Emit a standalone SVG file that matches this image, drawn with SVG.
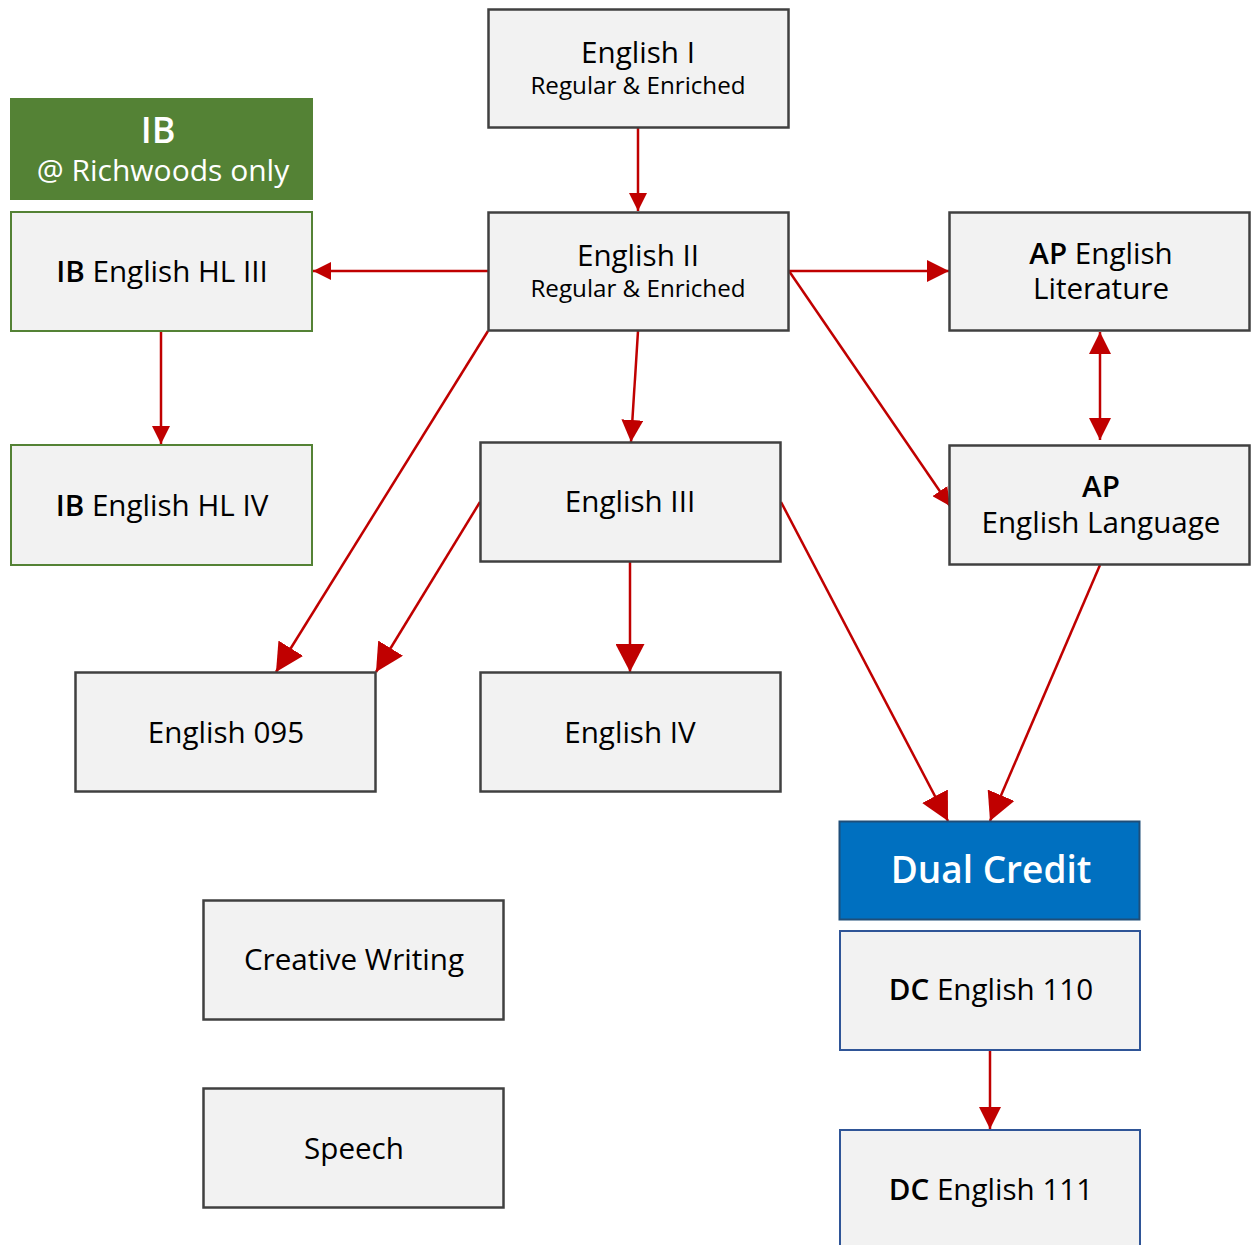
<svg xmlns="http://www.w3.org/2000/svg" width="1252" height="1245" viewBox="0 0 1252 1245">
<style>
  text { font-family: "Open Sans", "Noto Sans", "DejaVu Sans", sans-serif; text-anchor: middle; fill: #000; }
  .box { fill: #f2f2f2; stroke: #404040; stroke-width: 2.5; }
  .ib { fill: #f2f2f2; stroke: #548235; stroke-width: 2; }
  .dc { fill: #f2f2f2; stroke: #2f5597; stroke-width: 2; }
  .t { font-size: 29.6px; }
  .s { font-size: 24.2px; }
  .b { font-weight: 600; }
  .w { fill: #fff; }
  .c { stroke: #c00000; stroke-width: 2.5; fill: none; }
</style>
<defs>
  <marker id="aS" markerUnits="userSpaceOnUse" markerWidth="18" markerHeight="18" refX="18" refY="9" orient="auto-start-reverse" viewBox="0 0 18 18">
    <path d="M0,0 L18,9 L0,18 Z" fill="#c00000"/>
  </marker>
  <marker id="aM" markerUnits="userSpaceOnUse" markerWidth="22" markerHeight="22" refX="22" refY="11" orient="auto-start-reverse" viewBox="0 0 22 22">
    <path d="M0,0 L22,11 L0,22 Z" fill="#c00000"/>
  </marker>
  <marker id="aL" markerUnits="userSpaceOnUse" markerWidth="28" markerHeight="29" refX="28" refY="14.5" orient="auto-start-reverse" viewBox="0 0 28 29">
    <path d="M0,0 L28,14.5 L0,29 Z" fill="#c00000"/>
  </marker>
</defs>
<rect width="1252" height="1245" fill="#fff"/>

<g id="connectors">
  <line class="c" x1="638" y1="128" x2="638" y2="211" marker-end="url(#aS)"/>
  <line class="c" x1="488" y1="271" x2="313" y2="271" marker-end="url(#aS)"/>
  <line class="c" x1="161" y1="331" x2="161" y2="444" marker-end="url(#aS)"/>
  <line class="c" x1="789" y1="271" x2="949" y2="271" marker-end="url(#aM)"/>
  <line class="c" x1="789" y1="271" x2="950" y2="506" marker-end="url(#aS)"/>
  <line class="c" x1="1100" y1="332" x2="1100" y2="440" marker-start="url(#aM)" marker-end="url(#aM)"/>
  <line class="c" x1="638" y1="331" x2="631" y2="442" marker-end="url(#aM)"/>
  <line class="c" x1="488" y1="331" x2="276" y2="672" marker-end="url(#aL)"/>
  <line class="c" x1="480" y1="502" x2="376" y2="672" marker-end="url(#aL)"/>
  <line class="c" x1="630" y1="562" x2="630" y2="672" marker-end="url(#aL)"/>
  <line class="c" x1="781" y1="502" x2="948" y2="821" marker-end="url(#aL)"/>
  <line class="c" x1="1100" y1="565" x2="990" y2="821" marker-end="url(#aL)"/>
  <line class="c" x1="990" y1="1050" x2="990" y2="1129" marker-end="url(#aM)"/>
</g>

<g id="english1">
  <rect class="box" x="488.5" y="9.5" width="300" height="118"/>
  <text x="638" y="63"><tspan class="t">English I</tspan><tspan class="s" x="638" y="94">Regular &amp; Enriched</tspan></text>
</g>
<g id="english2">
  <rect class="box" x="488.5" y="212.5" width="300" height="118"/>
  <text x="638" y="266"><tspan class="t">English II</tspan><tspan class="s" x="638" y="297">Regular &amp; Enriched</tspan></text>
</g>
<g id="ib-header">
  <rect x="10" y="98" width="303" height="102" fill="#548235"/>
  <text class="w" x="158" y="143"><tspan class="b" font-size="36">IB</tspan><tspan x="163" y="181" font-size="30">@ Richwoods only</tspan></text>
</g>
<g id="ib3">
  <rect class="ib" x="11" y="212" width="301" height="119"/>
  <text class="t" x="162" y="282"><tspan class="b">IB</tspan> English HL III</text>
</g>
<g id="ib4">
  <rect class="ib" x="11" y="445" width="301" height="120"/>
  <text class="t" x="162" y="516"><tspan class="b">IB</tspan> English HL IV</text>
</g>
<g id="ap-lit">
  <rect class="box" x="949.5" y="212.5" width="300" height="118"/>
  <text class="t" x="1101" y="264"><tspan class="b">AP</tspan> English<tspan x="1101" y="299">Literature</tspan></text>
</g>
<g id="ap-lang">
  <rect class="box" x="949.5" y="445.5" width="300" height="119"/>
  <text class="t" x="1101" y="497"><tspan class="b">AP</tspan><tspan x="1101" y="533">English Language</tspan></text>
</g>
<g id="english3">
  <rect class="box" x="480.5" y="442.5" width="300" height="119"/>
  <text class="t" x="630" y="512">English III</text>
</g>
<g id="english095">
  <rect class="box" x="75.5" y="672.5" width="300" height="119"/>
  <text class="t" x="226" y="743">English 095</text>
</g>
<g id="english4">
  <rect class="box" x="480.5" y="672.5" width="300" height="119"/>
  <text class="t" x="630" y="743">English IV</text>
</g>
<g id="dual-credit">
  <rect x="839.5" y="821.5" width="300" height="98" fill="#0070c0" stroke="#1f4e79" stroke-width="2"/>
  <text class="w" x="991" y="883" font-size="37" font-weight="600">Dual Credit</text>
</g>
<g id="dc110">
  <rect class="dc" x="840" y="931" width="300" height="119"/>
  <text class="t" x="991" y="1000"><tspan class="b">DC</tspan> English 110</text>
</g>
<g id="dc111">
  <rect class="dc" x="840" y="1130" width="300" height="130"/>
  <text class="t" x="991" y="1200"><tspan class="b">DC</tspan> English 111</text>
</g>
<g id="creative-writing">
  <rect class="box" x="203.5" y="900.5" width="300" height="119"/>
  <text class="t" x="354" y="970">Creative Writing</text>
</g>
<g id="speech">
  <rect class="box" x="203.5" y="1088.5" width="300" height="119"/>
  <text class="t" x="354" y="1159">Speech</text>
</g>
</svg>
